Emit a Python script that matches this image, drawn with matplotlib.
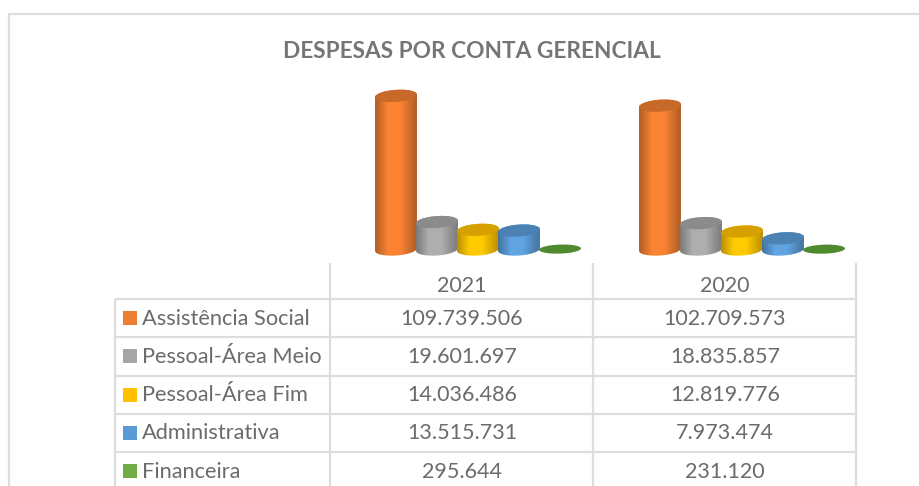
import numpy as np
import matplotlib.pyplot as plt
from matplotlib.colors import LinearSegmentedColormap, to_rgb
from matplotlib.patches import Polygon

plt.rcParams['font.family'] = ['Lato', 'DejaVu Sans']

anos = ['2021', '2020']
contas = ['Assistência Social', 'Pessoal-Área Meio', 'Pessoal-Área Fim', 'Administrativa', 'Financeira']
v2021 = [109739506, 19601697, 14036486, 13515731, 295644]
v2020 = [102709573, 18835857, 12819776, 7973474, 231120]
cores = ['#ED7D31', '#A5A5A5', '#FFC000', '#5B9BD5', '#70AD47']
titulo = 'DESPESAS POR CONTA GERENCIAL'


def fmt(v):
    return f'{v:,}'.replace(',', '.')


W, H = 919, 486
fig = plt.figure(figsize=(W / 100, H / 100), dpi=100)

# fundo em pixels para a moldura e a tabela
bg = fig.add_axes([0, 0, 1, 1])
bg.set_xlim(0, W)
bg.set_ylim(H, 0)
bg.axis('off')

linha = '#DDDDDD'
bg.plot([9, 9, W], [H, 14, 14], color=linha, lw=1.6, solid_capstyle='butt')
for x in [330, 593, 856]:
    bg.plot([x, x], [263, H], color=linha, lw=1.6, solid_capstyle='butt')
bg.plot([115, 115], [299, H], color=linha, lw=1.6, solid_capstyle='butt')
for y in [299, 337, 376, 414, 452]:
    bg.plot([115, 856], [y, y], color=linha, lw=1.6, solid_capstyle='butt')

bg.text(472, 51, titulo, ha='center', va='center', fontsize=16.3, fontweight='bold', color='#757575')

txt = '#6B6B6B'
for x, ano in zip([462, 725], anos):
    bg.text(x, 285.5, ano, ha='center', va='center', fontsize=15.5, color=txt)
for i, conta in enumerate(contas):
    y = 318 + i * 38.25
    bg.fill([123, 137, 137, 123], [y - 7, y - 7, y + 7, y + 7], color=cores[i], lw=0)
    bg.text(142, y + 0.5, conta, ha='left', va='center', fontsize=15.7, color=txt)
    bg.text(462, y + 0.5, fmt(v2021[i]), ha='center', va='center', fontsize=15.5, color=txt)
    bg.text(725, y + 0.5, fmt(v2020[i]), ha='center', va='center', fontsize=15.5, color=txt)

# grafico: eixo com a mesma escala dos valores
left, right, base, top, fundo = 330, 856, 249.5, 70, 262
px_x = (right - left) / 2
px_y = 1.4e-6
ax = fig.add_axes([left / W, 1 - fundo / H, (right - left) / W, (fundo - top) / H])
ax.patch.set_alpha(0)
ax.axis('off')


def elipse(xc, yc, t, a=21, b=6, ang=4):
    r = np.radians(ang)
    dx = a * np.cos(t) * np.cos(r) - b * np.sin(t) * np.sin(r)
    dy = a * np.cos(t) * np.sin(r) + b * np.sin(t) * np.cos(r)
    return np.column_stack([xc + dx / px_x, yc + dy / px_y])


def cilindro(xc, valor, cor):
    rgb = np.array(to_rgb(cor))
    escura = rgb * 0.74
    clara = np.minimum(rgb * 1.06, 1)
    meia = np.linspace(0, np.pi, 40)
    # corpo: metade de baixo da base + metade de cima do topo
    pts = np.vstack([elipse(xc, 0, meia + np.pi), elipse(xc, valor, meia)])
    corpo = Polygon(pts, closed=True, transform=ax.transData, lw=0, visible=False)
    ax.add_patch(corpo)
    cmap = LinearSegmentedColormap.from_list('c', [(0, escura), (0.3, clara), (0.6, clara), (1, escura)])
    im = ax.imshow(np.linspace(0, 1, 64)[None, :], cmap=cmap, aspect='auto', zorder=2 + xc,
                   extent=[xc - 21 / px_x, xc + 21 / px_x, -10e6, valor + 10e6], interpolation='bilinear')
    im.set_clip_path(corpo)
    tudo = np.linspace(0, 2 * np.pi, 80)
    ax.add_patch(Polygon(elipse(xc, valor, tudo), closed=True, facecolor=rgb * 0.84, lw=0, zorder=2.01 + xc))


passo = 41 / px_x
tudo = np.linspace(0, 2 * np.pi, 80)
for g, vals in enumerate([v2021, v2020]):
    x0 = (396 + g * 264 - left) / px_x
    for i, v in enumerate(vals):
        xc = x0 + i * passo
        if v < 1e6:
            # barra quase sem altura: so a elipse verde
            ax.add_patch(Polygon(elipse(xc, v, tudo, b=4.5, ang=2), closed=True, facecolor='#4F8A2E', lw=0, zorder=2 + xc))
        else:
            cilindro(xc, v, cores[i])
ax.set_xlim(0, 2)
ax.set_ylim(-(fundo - base) / px_y, (base - top) / px_y)

fig.savefig('out.png', dpi=100)
